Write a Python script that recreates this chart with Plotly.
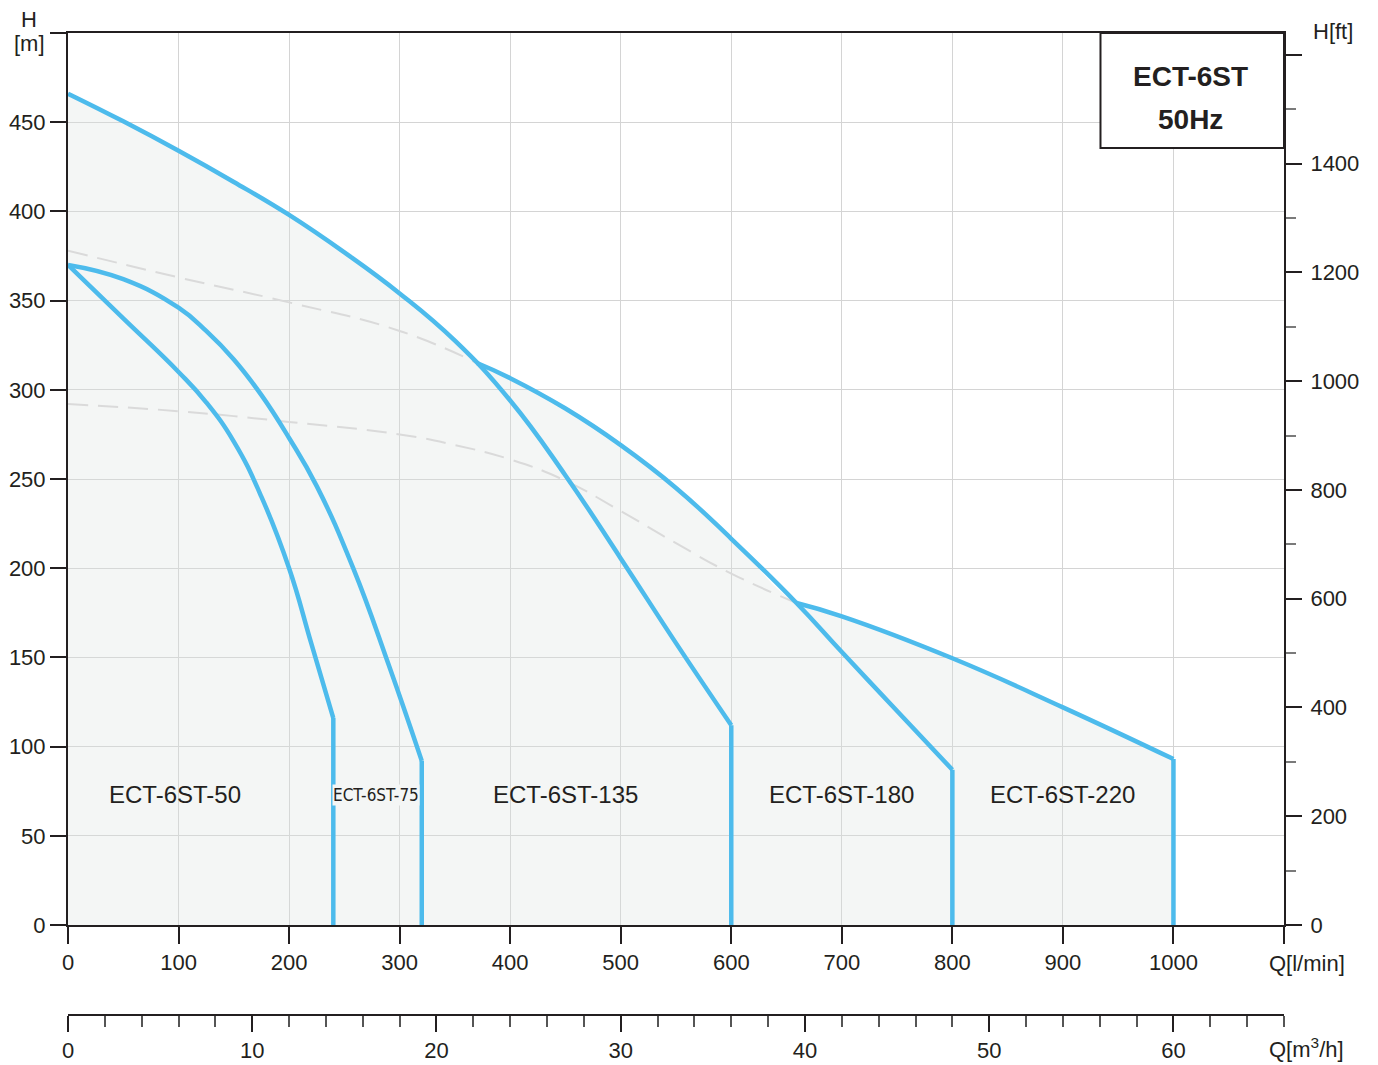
import plotly.graph_objects as go

# ---------------- data ----------------
M_TO_FT = 3.28084          # 1 m = 3.28084 ft
LPM_PER_M3H = 1000 / 60    # 1 m3/h = 16.67 l/min

q_50 = [0, 50, 100, 125, 150, 175, 200, 220, 240]
h_50 = [370, 340, 310, 293, 271, 240, 200, 158, 116]

q_75 = [0, 50, 100, 125, 150, 175, 200, 225, 258, 290, 320]
h_75 = [370, 362, 346, 333, 317, 297, 273, 246, 200, 146, 92]

q_135 = [0, 50, 100, 150, 200, 250, 300, 350, 400, 450, 500, 550, 600]
h_135 = [466, 450.5, 434, 416.5, 398, 377, 354, 327.5, 294, 252, 205.5, 158, 112]

q_180 = [370, 400, 450, 500, 550, 600, 659, 700, 750, 800]
h_180 = [315, 306.5, 289.5, 269, 245, 216.5, 180.5, 153, 120, 87]
q_180_ext = [0, 100, 200, 300, 370]
h_180_ext = [378, 363, 349, 333, 315]

q_220 = [659, 700, 800, 900, 1000]
h_220 = [180.5, 173, 149.5, 122, 93]
q_220_ext = [0, 100, 200, 300, 350, 400, 450, 500, 550, 600, 659]
h_220_ext = [292, 288, 282, 275, 269, 261, 249, 232, 214, 197, 180.5]

models = ["ECT-6ST-50", "ECT-6ST-75", "ECT-6ST-135", "ECT-6ST-180", "ECT-6ST-220"]
label_q = [97, 279, 450, 700, 900]
label_h = [73, 73, 73, 73, 73]

title_lines = ["ECT-6ST", "50Hz"]

Q_MAX = 1100
H_MAX = 500

# ---------------- styles ----------------
BLUE = "rgb(77,187,236)"
DASH = "#dadada"
INK = "#231f20"
GRID = "#d4d4d4"
FONT = "Liberation Sans, Arial, Helvetica, sans-serif"
SMOOTH = 1.3

# figure geometry (pixels); the page body adds an 8 px margin
BODY = 8
W, H = 1370, 1057
ML, MR, MT, MB = 60, 94, 25, 20
PLOT_BOTTOM_PX = 925   # screen pixel where H = 0
AXIS2_PX = 1015        # screen pixel of the secondary flow axis


def px_x(px):
    return (px - BODY - ML) / (W - ML - MR)


def px_y(py):
    return (H - MB - (py - BODY)) / (H - MT - MB)


fig = go.Figure()

# envelope fill (upper envelope of the solid curves)
env_q = [q for q in q_135 if q < q_180[0]] + \
        [q for q in q_180 if q <= q_220[0]] + \
        [q for q in q_220 if q > q_220[0]]
env_h = [h for q, h in zip(q_135, h_135) if q < q_180[0]] + \
        [h for q, h in zip(q_180, h_180) if q <= q_220[0]] + \
        [h for q, h in zip(q_220, h_220) if q > q_220[0]]
fig.add_trace(go.Scatter(x=env_q, y=env_h, mode="lines",
                         line=dict(width=0, shape="spline", smoothing=SMOOTH),
                         fill="tozeroy", fillcolor="rgba(218,225,222,0.30)",
                         hoverinfo="skip", showlegend=False))

# dashed extensions
for qx, hy in [(q_180_ext, h_180_ext), (q_220_ext, h_220_ext)]:
    fig.add_trace(go.Scatter(x=qx, y=hy, mode="lines",
                             line=dict(color=DASH, width=2, dash="20px,10px",
                                       shape="spline", smoothing=SMOOTH),
                             hoverinfo="skip", showlegend=False))

# pump curves and their end drops
curves = [(q_50, h_50), (q_75, h_75), (q_135, h_135), (q_180, h_180), (q_220, h_220)]
for name, (qx, hy) in zip(models, curves):
    fig.add_trace(go.Scatter(x=qx, y=hy, mode="lines", name=name,
                             line=dict(color=BLUE, width=4.5, shape="spline", smoothing=SMOOTH),
                             showlegend=False))
    fig.add_trace(go.Scatter(x=[qx[-1], qx[-1]], y=[hy[-1], 0], mode="lines",
                             line=dict(color=BLUE, width=4.5),
                             hoverinfo="skip", showlegend=False))

# helper traces so the secondary axes are rendered
fig.add_trace(go.Scatter(x=[0, Q_MAX / LPM_PER_M3H], y=[0, 0], xaxis="x2", yaxis="y",
                         mode="markers", marker=dict(opacity=0), hoverinfo="skip", showlegend=False))
fig.add_trace(go.Scatter(x=[0, 0], y=[0, H_MAX * M_TO_FT], xaxis="x", yaxis="y2",
                         mode="markers", marker=dict(opacity=0), hoverinfo="skip", showlegend=False))

# ---------------- annotations ----------------
ann = []
for name, lq, lh in zip(models, label_q, label_h):
    if name.endswith("-75"):
        ann.append(dict(x=lq, y=lh, text=name, showarrow=False,
                        font=dict(family="DejaVu Sans Condensed, Roboto Condensed, Liberation Sans Narrow, Roboto",
                                  size=17, color=INK),
                        bgcolor="#f4f6f5", borderpad=0))
    else:
        ann.append(dict(x=lq, y=lh, text=name, showarrow=False,
                        font=dict(family=FONT, size=24, color=INK)))

# title box text
ann.append(dict(x=1015, y=475.5, text="<b>%s</b>" % title_lines[0], showarrow=False,
                font=dict(family=FONT, size=28, color=INK)))
ann.append(dict(x=1015, y=451.5, text="<b>%s</b>" % title_lines[1], showarrow=False,
                font=dict(family=FONT, size=28, color=INK)))

# axis titles (paper coordinates, outside the plot area)
axis_font = dict(family=FONT, size=22, color=INK)
for txt, px, py in [("H", 29, 20), ("[m]", 29, 43), ("H[ft]", 1333, 32),
                    ("Q[l/min]", 1307, 963), ("Q[m<sup>3</sup>/h]", 1306, 1048)]:
    ann.append(dict(xref="paper", yref="paper", x=px_x(px), y=px_y(py), text=txt,
                    showarrow=False, font=axis_font, xanchor="center", yanchor="middle"))

shapes = [dict(type="rect", xref="x", yref="y", x0=934, x1=Q_MAX, y0=435.5, y1=H_MAX,
               line=dict(color=INK, width=2), fillcolor="white", layer="above")]

tickfont = dict(family=FONT, size=22, color=INK)

fig.update_layout(
    width=W, height=H,
    margin=dict(l=ML, r=MR, t=MT, b=MB, autoexpand=False),
    paper_bgcolor="white", plot_bgcolor="white",
    showlegend=False,
    annotations=ann, shapes=shapes,
    xaxis=dict(range=[0, Q_MAX], domain=[0, 1], anchor="y", automargin=False,
               tickmode="linear", tick0=0, dtick=100, labelalias={"1100": ""},
               ticks="outside", ticklen=17, tickwidth=2, tickcolor=INK,
               showline=True, linecolor=INK, linewidth=2, mirror=True,
               showgrid=True, gridcolor=GRID, gridwidth=1, zeroline=False,
               tickfont=tickfont, ticklabelstandoff=0),
    yaxis=dict(range=[0, H_MAX], domain=[px_y(PLOT_BOTTOM_PX), 1], anchor="x", automargin=False,
               tickmode="linear", tick0=0, dtick=50, labelalias={"500": ""},
               ticks="outside", ticklen=16, tickwidth=2, tickcolor=INK,
               showline=True, linecolor=INK, linewidth=2,
               showgrid=True, gridcolor=GRID, gridwidth=1, zeroline=False,
               tickfont=tickfont, ticklabelstandoff=0),
    yaxis2=dict(range=[0, H_MAX * M_TO_FT], overlaying="y", side="right", anchor="x", automargin=False,
                tickmode="linear", tick0=0, dtick=200, labelalias={"1600": ""},
                ticks="outside", ticklen=16, tickwidth=2, tickcolor=INK,
                minor=dict(dtick=100, ticklen=10, tickwidth=1.5, tickcolor="#7a7a7a", ticks="outside"),
                showline=True, linecolor=INK, linewidth=2,
                showgrid=False, zeroline=False,
                tickfont=tickfont, ticklabelstandoff=4),
    xaxis2=dict(range=[0, Q_MAX / LPM_PER_M3H], overlaying="x", anchor="free", automargin=False,
                position=px_y(AXIS2_PX),
                tickmode="linear", tick0=0, dtick=10,
                ticks="outside", ticklen=16, tickwidth=2, tickcolor=INK,
                minor=dict(dtick=2, ticklen=11, tickwidth=1.5, tickcolor="#555555", ticks="outside"),
                showline=True, linecolor=INK, linewidth=2,
                showgrid=False, zeroline=False,
                tickfont=tickfont, ticklabelstandoff=0),
)

fig.write_html("out.html")
